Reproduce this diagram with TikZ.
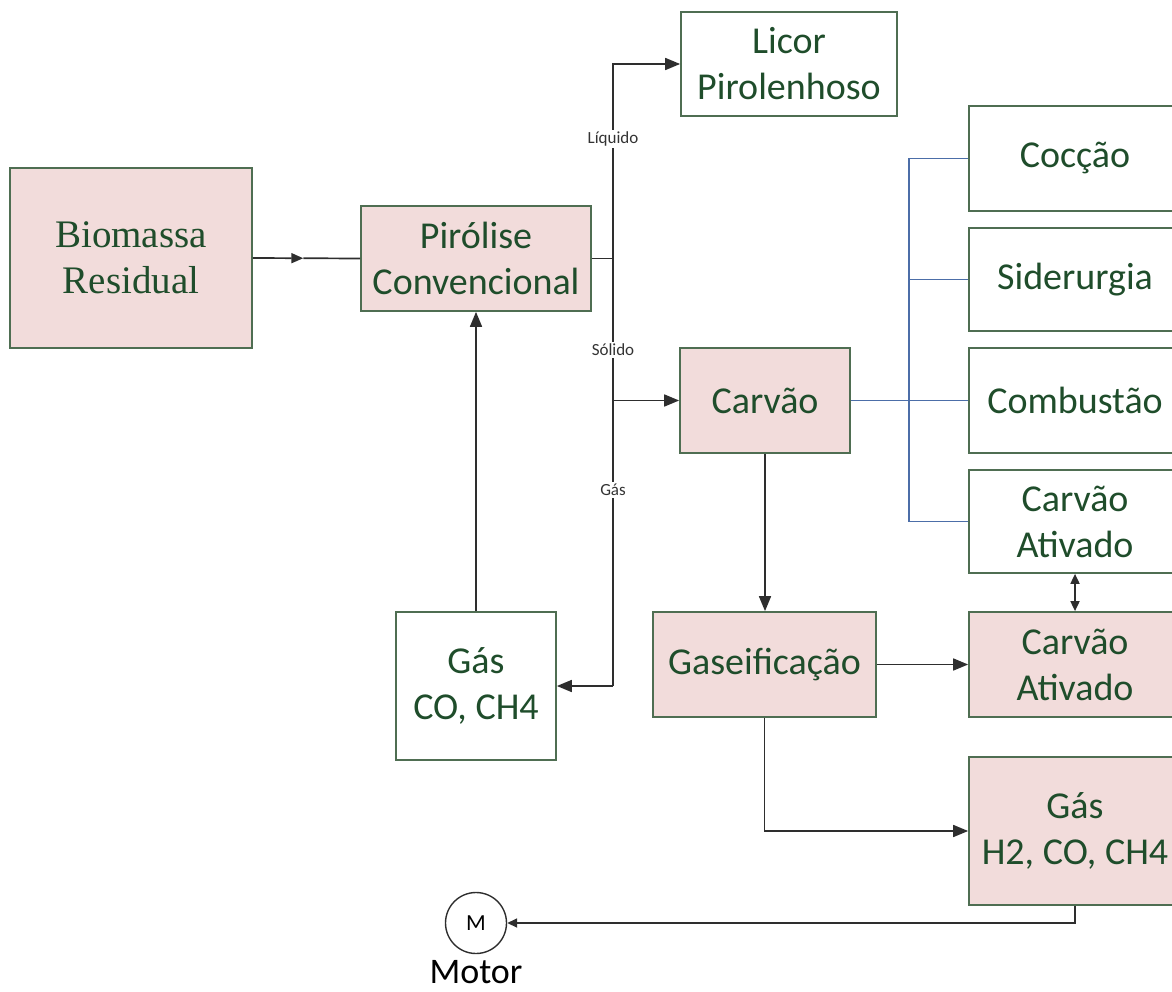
\documentclass[tikz,border=0pt]{standalone}
\usepackage{fontspec}
\setmainfont{Carlito}
\newfontfamily\seriffont{Liberation Serif}
\usetikzlibrary{arrows.meta,calc}
\definecolor{boxfill}{HTML}{F2DCDB}
\definecolor{boxline}{HTML}{4F6E52}
\definecolor{txtgreen}{HTML}{1F4D2B}
\definecolor{conn}{HTML}{2E2E2E}
\definecolor{blueline}{HTML}{4C6EA8}
\tikzset{
  x=1pt, y=-1pt,
  box/.style={draw=boxline, line width=1.7pt, minimum width=#1, text=txtgreen, align=center, inner sep=0pt,
    font=\fontsize{38}{46}\selectfont},
  pink/.style={fill=boxfill},
  conn/.style={draw=conn, line width=1.7pt},
  arr/.style={conn, -{Triangle[length=15pt,width=12pt]}},
  sarr/.style={conn, -{Triangle[length=10pt,width=9pt]}},
  blue/.style={draw=blueline, line width=1.4pt},
  lbl/.style={fill=white, inner sep=2pt, text=black!80, font=\fontsize{17}{20}\selectfont}
}
\begin{document}
\begin{tikzpicture}
\useasboundingbox (0,0) rectangle (1172,992);
% boxes
\node[box=242pt, pink, minimum height=180pt, font=\seriffont\fontsize{39}{46}\selectfont] (bio) at (131,258) {Biomassa\\Residual};
\node[box=230pt, pink, minimum height=105pt] (pir) at (476,258.5) {Pirólise\\Convencional};
\node[box=216pt, minimum height=104pt] (lic) at (789,64) {Licor\\Pirolenhoso};
\node[box=212pt, minimum height=105pt] (coc) at (1075,158.5) {Cocção};
\node[box=212pt, minimum height=103pt] (sid) at (1075,279.5) {Siderurgia};
\node[box=212pt, minimum height=105pt] (com) at (1075,400.5) {Combustão};
\node[box=212pt, minimum height=103pt] (caw) at (1075,521.5) {Carvão\\Ativado};
\node[box=170pt, pink, minimum height=105pt] (car) at (765,400.5) {Carvão};
\node[box=160pt, minimum height=148pt] (gco) at (476,686) {Gás\\CO, CH4};
\node[box=223pt, pink, minimum height=105pt] (gsf) at (764.5,664.5) {Gaseificação};
\node[box=212pt, pink, minimum height=105pt] (cap) at (1075,664.5) {Carvão\\Ativado};
\node[box=212pt, pink, minimum height=148pt] (gh2) at (1075,831) {Gás\\H2, CO, CH4};
\node[draw=conn, line width=1.4pt, circle, minimum size=61pt, inner sep=0pt, font=\fontsize{23}{26}\selectfont] (mot) at (476,923) {M};
\node[font=\fontsize{36}{42}\selectfont, inner sep=0pt, anchor=base] (motl) at (476,983) {Motor};
% biomass -> pyrolysis
\coordinate (bm) at ($(bio.east)!0.47!(pir.west)$);
\draw[conn, -{Triangle[length=12pt,width=10pt]}] (bio.east) -- (bm);
\draw[conn] (bm) -- (pir.west);
% pyrolysis split
\coordinate (J) at (613,258.5);
\coordinate (T) at (613,64);
\coordinate (S) at (613,400.5);
\coordinate (B) at (613,686);
\draw[conn] (pir.east) -- (J);
\draw[arr] (J) -- (T) -- (lic.west);
\draw[conn] (J) -- (B);
\draw[arr] (B) -- (gco.east);
\draw[arr] (S) -- (car.west);
\node[lbl] (lliq) at (613,139) {Líquido};
\node[lbl] (lsol) at (613,350) {Sólido};
\node[lbl] (lgas) at (613,490) {Gás};
% gas back to pyrolysis
\draw[arr] (gco.north) -- (pir.south);
% carvao uses
\coordinate (V) at (909,400.5);
\draw[blue] (car.east) -- (V);
\draw[blue] (909,158.5) -- (909,521.5);
\draw[blue] (909,158.5) -- (coc.west);
\draw[blue] (909,279.5) -- (sid.west);
\draw[blue] (V) -- (com.west);
\draw[blue] (909,521.5) -- (caw.west);
% carvao -> gaseificacao
\draw[arr] (car.south) -- (car.south |- gsf.north);
\draw[arr] (gsf.east) -- (cap.west);
\draw[conn, {Triangle[length=10pt,width=9pt]}-{Triangle[length=10pt,width=9pt]}] (caw.south) -- (cap.north);
\draw[arr] (gsf.south) |- (gh2.west);
\draw[sarr] (gh2.south) |- (mot.east);
\end{tikzpicture}
\end{document}
